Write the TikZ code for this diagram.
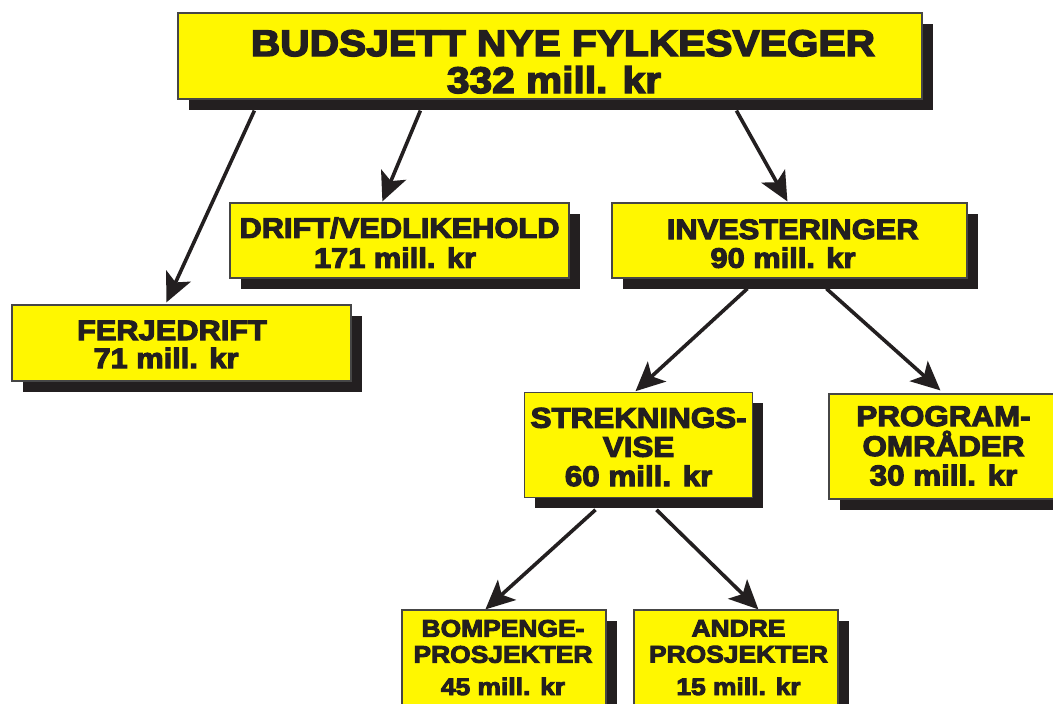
\documentclass[tikz,border=0pt]{standalone}
\usepackage{fontspec}
\setmainfont{Liberation Sans}[BoldFeatures={FakeBold=4,FakeStretch=1.1}]
\usetikzlibrary{arrows.meta,shadows,calc,backgrounds}
\definecolor{boxyellow}{RGB}{255,247,0}
\definecolor{ink}{RGB}{35,31,32}
\definecolor{edgegray}{RGB}{70,70,70}
\begin{document}
\begin{tikzpicture}[x=1pt,y=-1pt,
  box/.style={draw=edgegray, line width=1.2pt, fill=boxyellow, inner sep=0pt,
    drop shadow={shadow xshift=10.5pt, shadow yshift=-10.5pt, fill=ink, opacity=1}},
  tbig/.style={font=\bfseries\fontsize{37}{40}\selectfont, text=ink, inner sep=0pt, anchor=base},
  tmid/.style={font=\bfseries\fontsize{28}{32}\selectfont, text=ink, inner sep=0pt, anchor=base},
  tsub/.style={font=\bfseries\fontsize{28.5}{31}\selectfont, text=ink, inner sep=0pt, anchor=base},
  tsml/.style={font=\bfseries\fontsize{24}{27}\selectfont, text=ink, inner sep=0pt, anchor=base},
  arr/.style={draw=ink, line width=3.6pt, -{Stealth[length=29pt,width=27pt,inset=7pt]}}
]
\clip (0,0) rectangle (1053,704);

% boxes
\node[box, minimum width=744pt, minimum height=86pt] (top) at (550,56) {};
\node[box, minimum width=339pt, minimum height=75pt] (drift) at (399.5,240.5) {};
\node[box, minimum width=355pt, minimum height=75pt] (invest) at (789.5,240.5) {};
\node[box, minimum width=339pt, minimum height=76pt] (ferj) at (181.5,343) {};
\node[box, minimum width=228pt, minimum height=105pt] (strek) at (638.6,445) {};
\node[box, minimum width=231pt, minimum height=105pt] (prog) at (944.5,446.5) {};
\node[box, minimum width=204pt, minimum height=110pt] (bomp) at (504,665) {};
\node[box, minimum width=204pt, minimum height=110pt] (andre) at (736,665) {};

% texts
\node[tbig] (top1) at (563,56) {BUDSJETT NYE FYLKESVEGER};
\node[tbig] (top2) at (554,93) {332 mill. kr};
\node[tmid] (drift1) at (399.5,237.7) {DRIFT/VEDLIKEHOLD};
\node[tmid] (drift2) at (395,267.7) {171 mill. kr};
\node[tmid] (inv1) at (792.7,239) {INVESTERINGER};
\node[tmid] (inv2) at (783,267.7) {90 mill. kr};
\node[tmid] (ferj1) at (172,340) {FERJEDRIFT};
\node[tmid] (ferj2) at (166,368) {71 mill. kr};
\node[tsub] (strek1) at (638.6,427.7) {STREKNINGS-};
\node[tsub] (strek2) at (638.6,456.7) {VISE};
\node[tsub] (strek3) at (638.6,486) {60 mill. kr};
\node[tsub] (prog1) at (943.5,426) {PROGRAM-};
\node[tsub] (prog2) at (943.5,456) {OMRÅDER};
\node[tsub] (prog3) at (943.5,485.3) {30 mill. kr};
\node[tsml] (bomp1) at (503,636.7) {BOMPENGE-};
\node[tsml] (bomp2) at (503,662.7) {PROSJEKTER};
\node[tsml] (bomp3) at (503,695) {45 mill. kr};
\node[tsml] (andre1) at (738.5,636.5) {ANDRE};
\node[tsml] (andre2) at (738.5,662.5) {PROSJEKTER};
\node[tsml] (andre3) at (738.5,695) {15 mill. kr};

% arrows
\begin{scope}[on background layer]
\fill[white] (0,0) rectangle (1053,704);
\draw[arr] ($(top.south west)+(77,11)$) -- ($(ferj.north west)+(155,-2)$);
\draw[arr] ($(top.south west)+(243,11)$) -- ($(drift.north west)+(153,-1)$);
\draw[arr] ($(top.south west)+(559,11)$) -- ($(invest.north west)+(176,-1)$);
\draw[arr] ($(invest.south west)+(136,10)$) -- ($(strek.north west)+(111.5,-0.7)$);
\draw[arr] ($(invest.south west)+(215,10)$) -- ($(prog.north west)+(112,-3)$);
\draw[arr] ($(strek.south west)+(71.5,11.7)$) -- ($(bomp.north west)+(84,0)$);
\draw[arr] ($(strek.south west)+(132.5,11.7)$) -- ($(andre.north west)+(125,0)$);
\end{scope}
\end{tikzpicture}
\end{document}
